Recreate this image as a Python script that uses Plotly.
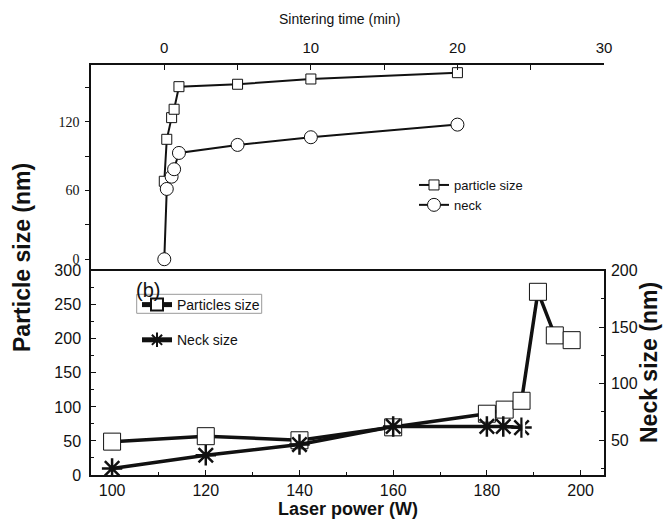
import plotly.graph_objects as go

# ---- top panel data (sintering time) ----
time_min = [0, 0.17, 0.5, 0.67, 1, 5, 10, 20]
particle_top = [68, 104.6, 123.5, 130.8, 150.5, 152.6, 157.2, 162.7]
neck_top = [0, 61.3, 72, 78.5, 92.7, 99.7, 106.4, 117.4]

# ---- bottom panel data (laser power) ----
power_particle = [100, 120, 140, 160, 180, 183.8, 187.4, 190.9, 194.5, 198.1]
particle_bottom = [49, 57, 51, 70, 90, 96, 109, 269, 205, 198]
power_neck = [100, 120, 140, 160, 180, 183.5, 187.4]
neck_bottom = [24.8, 36.5, 46, 62, 62, 62, 61]

SANS = "Liberation Sans"
SERIF = "Liberation Serif"
BLACK = "#111111"

fig = go.Figure()

fig.add_trace(go.Scatter(
    x=time_min, y=particle_top, xaxis="x2", yaxis="y2", mode="lines+markers",
    name="particle size", legend="legend",
    line=dict(color=BLACK, width=2),
    marker=dict(symbol="square", size=10, color="white", line=dict(color=BLACK, width=1)),
))
fig.add_trace(go.Scatter(
    x=time_min, y=neck_top, xaxis="x2", yaxis="y2", mode="lines+markers",
    name="neck", legend="legend",
    line=dict(color=BLACK, width=2),
    marker=dict(symbol="circle", size=13, color="white", line=dict(color=BLACK, width=1)),
))
fig.add_trace(go.Scatter(
    x=power_particle, y=particle_bottom, xaxis="x", yaxis="y", mode="lines+markers",
    name="Particles size", legend="legend2", legendgroup="a",
    line=dict(color=BLACK, width=3.5),
    marker=dict(symbol="square", size=17, color="white", line=dict(color=BLACK, width=1)),
))
fig.add_trace(go.Scatter(
    x=power_neck, y=neck_bottom, xaxis="x", yaxis="y3", mode="lines+markers",
    name="Neck size", legend="legend2", legendgroup="b",
    line=dict(color=BLACK, width=3.5),
    marker=dict(symbol="asterisk-open", size=17, color=BLACK, line=dict(color=BLACK, width=2.5)),
))

L, R, T, B = 91, 60, 65, 44
W, H = 664, 519
ph = H - T - B
split = (475 - 270.7) / ph

def px(x):
    return (x - L) / (W - L - R)

def py(y):
    return (H - B - y) / ph

axis_common = dict(showline=True, linecolor=BLACK, linewidth=1.5, showgrid=False, zeroline=False,
                   tickcolor=BLACK, tickwidth=1.2)

fig.update_layout(
    width=W, height=H, margin=dict(l=L, r=R, t=T, b=B),
    paper_bgcolor="white", plot_bgcolor="white",
    font=dict(family=SANS, color=BLACK, size=15),
    xaxis=dict(domain=[0, 1], anchor="y", range=[95.5, 205], tickvals=[100, 120, 140, 160, 180, 200],
               ticks="inside", ticklen=5, mirror=True,
               minor=dict(dtick=10, tick0=100, ticks="inside", ticklen=3, tickcolor=BLACK),
               tickfont=dict(family=SANS, size=16), **axis_common),
    yaxis=dict(domain=[0, split], anchor="x", range=[0, 300], tickvals=[0, 50, 100, 150, 200, 250, 300],
               ticks="inside", ticklen=5, ticklabelstandoff=5,
               minor=dict(dtick=25, tick0=0, ticks="inside", ticklen=3, tickcolor=BLACK),
               tickfont=dict(family=SANS, size=16), **axis_common),
    yaxis3=dict(overlaying="y", side="right", anchor="x", range=[19, 200], tickvals=[50, 100, 150, 200],
                ticks="inside", ticklen=5, ticklabelstandoff=2,
                minor=dict(tickvals=[25, 75, 125, 175], ticks="inside", ticklen=3, tickcolor=BLACK),
                tickfont=dict(family=SANS, size=16), **axis_common),
    xaxis2=dict(domain=[0, 1], anchor="y2", side="top", range=[-5, 30], tickvals=[0, 10, 20, 30],
                ticks="inside", ticklen=5, ticklabelstandoff=4,
                minor=dict(dtick=5, tick0=0, ticks="inside", ticklen=5, tickcolor=BLACK),
                tickfont=dict(family=SANS, size=15), **axis_common),
    xaxis3=dict(overlaying="x2", anchor="y2", side="bottom", range=[-5, 30], dtick=5, tick0=0,
                ticks="outside", ticklen=5, showticklabels=False, **axis_common),
    yaxis2=dict(domain=[split, 1], anchor="x2", range=[-10, 169.4], tickvals=[0, 60, 120],
                ticks="outside", ticklen=4, ticklabelstandoff=3,
                minor=dict(tickvals=[30, 90, 150], ticks="outside", ticklen=4, tickcolor=BLACK),
                tickfont=dict(family=SERIF, size=14), **axis_common),
    yaxis4=dict(overlaying="y2", side="right", anchor="x2", range=[-10, 169.4], dtick=30, tick0=0,
                ticks="inside", ticklen=4, showticklabels=False, **axis_common),
    legend=dict(x=px(414), y=py(170), xanchor="left", yanchor="top", bgcolor="rgba(0,0,0,0)",
                font=dict(family=SANS, size=13), tracegroupgap=0, itemclick=False),
    legend2=dict(x=px(137), y=py(289), xanchor="left", yanchor="top", bgcolor="rgba(0,0,0,0)",
                 font=dict(family=SANS, size=14), tracegroupgap=14, traceorder="grouped",
                 itemsizing="constant"),
    showlegend=True,
)

fig.add_shape(type="rect", xref="paper", yref="paper",
              x0=px(136.7), x1=px(261.7), y0=py(313.3), y1=py(294.3),
              line=dict(color="#999999", width=1), fillcolor="rgba(0,0,0,0)")
fig.add_shape(type="line", xref="x", yref="y", x0=187.9, x1=187.9, y0=-2, y1=85,
              line=dict(color="white", width=2.5), layer="above")

ann = dict(xref="paper", yref="paper", showarrow=False, xanchor="center", yanchor="middle")
fig.add_annotation(text="(b)", x=px(148), y=py(290),
                   font=dict(family=SANS, size=20, color=BLACK), **ann)
fig.add_annotation(text="<b>Particle size (nm)</b>", x=px(22), y=py(258), textangle=-90,
                   font=dict(family=SANS, size=23, color=BLACK), **ann)
fig.add_annotation(text="<b>Neck size (nm)</b>", x=px(649), y=py(363), textangle=-90,
                   font=dict(family=SANS, size=23, color=BLACK), **ann)
fig.add_annotation(text="<b>Laser power (W)</b>", x=px(348), y=py(509),
                   font=dict(family=SANS, size=18, color=BLACK), **ann)
fig.add_annotation(text="Sintering time (min)", x=px(339), y=py(19),
                   font=dict(family=SANS, size=14, color=BLACK), **ann)

fig.write_html("out.html", config={"displayModeBar": False},
               post_script="document.body.style.margin='0';document.body.style.padding='0';")
